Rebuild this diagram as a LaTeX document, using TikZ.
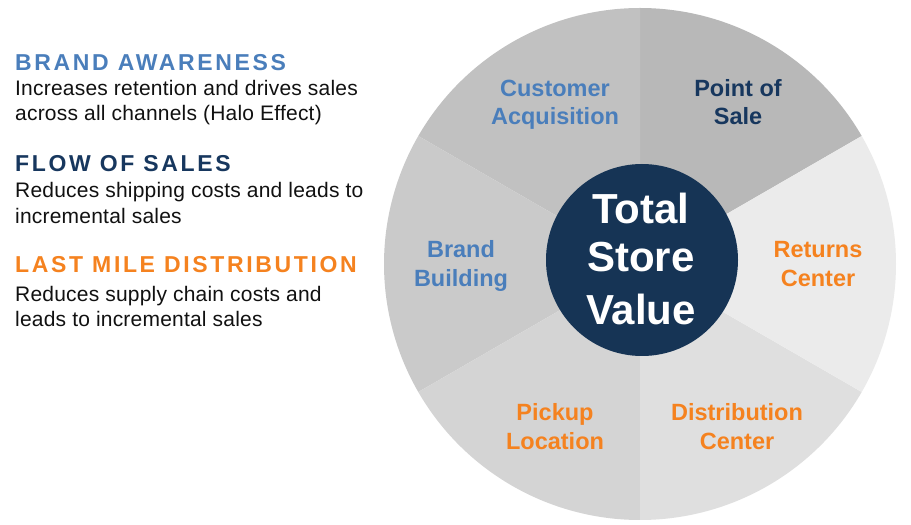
\documentclass[tikz,border=0pt]{standalone}
\usepackage{fontspec}
\setmainfont{Liberation Sans}
\newfontfamily\headfont[LetterSpace=11.5]{Liberation Sans}
\newfontfamily\bodyfont[LetterSpace=1]{Liberation Sans}
\definecolor{cblue}{HTML}{4A7EBB}
\definecolor{cnavy}{HTML}{17375E}
\definecolor{corange}{HTML}{F5821F}
\definecolor{cdark}{HTML}{163455}
\definecolor{ctext}{HTML}{111111}
\definecolor{gA}{HTML}{B8B8B8}
\definecolor{gB}{HTML}{C1C1C1}
\definecolor{gC}{HTML}{CACACA}
\definecolor{gD}{HTML}{D4D4D4}
\definecolor{gE}{HTML}{DFDFDF}
\definecolor{gF}{HTML}{EBEBEB}
\tikzset{
  heading/.style={anchor=base west, inner sep=0pt, font=\headfont\bfseries\fontsize{23}{27}\selectfont},
  body/.style={anchor=base west, inner sep=0pt, text=ctext, font=\bodyfont\fontsize{21}{25}\selectfont},
  wlabel/.style={anchor=base, inner sep=0pt, font=\bfseries\fontsize{23.5}{28}\selectfont},
  centertext/.style={anchor=base, inner sep=0pt, text=white, font=\bfseries\fontsize{42}{50}\selectfont},
}
\begin{document}
\begin{tikzpicture}[x=1pt,y=1pt]
\useasboundingbox (0,0) rectangle (911,525);
\fill[white] (0,0) rectangle (911,525);
\coordinate (c) at (640,261);
% wedges
\fill[gA] (c) -- ++(30:256) arc[start angle=30,end angle=90,radius=256] -- cycle;
\fill[gB] (c) -- ++(90:256) arc[start angle=90,end angle=150,radius=256] -- cycle;
\fill[gC] (c) -- ++(150:256) arc[start angle=150,end angle=210,radius=256] -- cycle;
\fill[gD] (c) -- ++(210:256) arc[start angle=210,end angle=270,radius=256] -- cycle;
\fill[gE] (c) -- ++(270:256) arc[start angle=270,end angle=330,radius=256] -- cycle;
\fill[gF] (c) -- ++(330:256) arc[start angle=330,end angle=390,radius=256] -- cycle;
% center circle
\node[circle, fill=cdark, minimum size=192pt, inner sep=0pt] (hub) at (642,265) {};
\node[centertext] (t1) at (641,301) {Total};
\node[centertext] (t2) at (641,253) {Store};
\node[centertext] (t3) at (641,200) {Value};
% wedge labels
\node[wlabel, text=cblue] (ca1) at (555,428) {Customer};
\node[wlabel, text=cblue] (ca2) at (555,400) {Acquisition};
\node[wlabel, text=cnavy] (ps1) at (738,428) {Point of};
\node[wlabel, text=cnavy] (ps2) at (738,400) {Sale};
\node[wlabel, text=cblue] (bb1) at (461,267) {Brand};
\node[wlabel, text=cblue] (bb2) at (461,238) {Building};
\node[wlabel, text=corange] (rc1) at (818,267) {Returns};
\node[wlabel, text=corange] (rc2) at (818,238) {Center};
\node[wlabel, text=corange] (pl1) at (555,104) {Pickup};
\node[wlabel, text=corange] (pl2) at (555,75) {Location};
\node[wlabel, text=corange] (dc1) at (737,104) {Distribution};
\node[wlabel, text=corange] (dc2) at (737,75) {Center};
% left text
\node[heading, text=cblue] (h1) at (15,454) {BRAND AWARENESS};
\node[body] (b11) at (15,429) {Increases retention and drives sales};
\node[body] (b12) at (15,404) {across all channels (Halo Effect)};
\node[heading, text=cnavy] (h2) at (15,353) {FLOW OF SALES};
\node[body] (b21) at (15,327) {Reduces shipping costs and leads to};
\node[body] (b22) at (15,301) {incremental sales};
\node[heading, text=corange] (h3) at (15,252) {LAST MILE DISTRIBUTION};
\node[body] (b31) at (15,223) {Reduces supply chain costs and};
\node[body] (b32) at (15,198) {leads to incremental sales};
\end{tikzpicture}
\end{document}
